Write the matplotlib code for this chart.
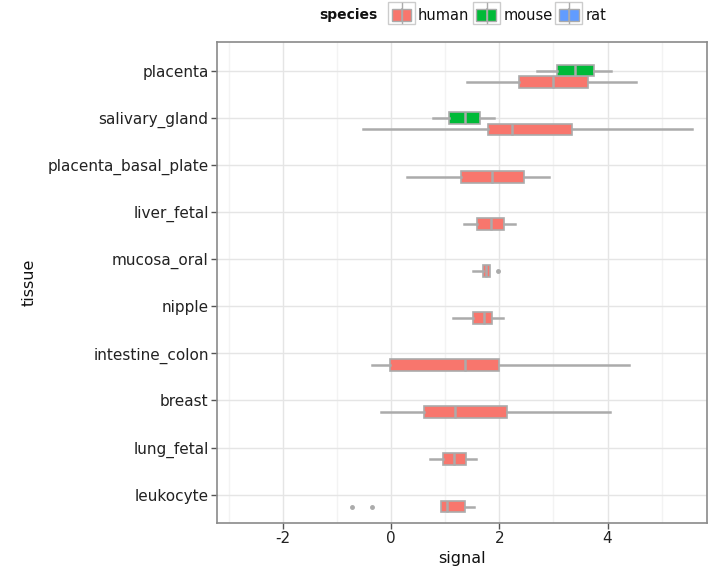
import matplotlib
matplotlib.use("Agg")
import matplotlib.pyplot as plt
from matplotlib.patches import Rectangle
from matplotlib.lines import Line2D

plt.rcParams["axes.unicode_minus"] = False

# ---- data ----
tissues = ["leukocyte", "lung_fetal", "breast", "intestine_colon", "nipple",
           "mucosa_oral", "liver_fetal", "placenta_basal_plate", "salivary_gland", "placenta"]
species = ["human", "mouse", "rat"]
species_colors = ["#F8766D", "#00BA38", "#619CFF"]

# human stats: whislo, q1, med, q3, whishi
human_whislo = [0.92, 0.72, -0.18, -0.35, 1.15, 1.52, 1.35, 0.29, -0.52, 1.41]
human_q1     = [0.92, 0.95, 0.60, -0.03, 1.52, 1.69, 1.58, 1.29, 1.79, 2.37]
human_med    = [1.03, 1.17, 1.18, 1.37, 1.71, 1.76, 1.84, 1.86, 2.24, 2.99]
human_q3     = [1.37, 1.39, 2.14, 2.00, 1.86, 1.83, 2.08, 2.46, 3.35, 3.64]
human_whishi = [1.53, 1.57, 4.04, 4.39, 2.06, 1.83, 2.29, 2.92, 5.57, 4.53]
human_fliers = [[-0.73, -0.36], [], [], [], [], [1.98], [], [], [], []]

# mouse stats (only two tissues)
mouse_tissues = ["salivary_gland", "placenta"]
mouse_whislo = [0.77, 2.69]
mouse_q1     = [1.07, 3.06]
mouse_med    = [1.36, 3.39]
mouse_q3     = [1.65, 3.75]
mouse_whishi = [1.91, 4.07]

x_ticks = [-2, 0, 2, 4]

# ---- figure ----
W, H = 709, 568
fig = plt.figure(figsize=(W / 100, H / 100), dpi=100)
ax = fig.add_axes([217 / W, 1 - 523 / H, (706.5 - 217) / W, (523 - 42.3) / H])

grid_major = "#E5E5E5"
grid_minor = "#F3F3F3"
line_gray = "#ABABAB"

ax.set_xlim(-3.22, 5.83)
ax.set_ylim(0.4, 10.6)
ax.set_xticks(x_ticks)
ax.set_xticks([-3, -1, 1, 3, 5], minor=True)
ax.set_yticks(range(1, len(tissues) + 1))
ax.set_yticklabels(tissues)
ax.grid(True, which="major", color=grid_major, lw=1.0, zorder=0)
ax.grid(True, which="minor", axis="x", color=grid_minor, lw=1.0, zorder=0)
ax.set_axisbelow(True)
for s in ax.spines.values():
    s.set_color("#8A8A8A")
    s.set_linewidth(1.2)
ax.tick_params(axis="both", which="major", length=4, width=1.0, color="#555555",
               labelsize=11, labelcolor="#222222", pad=2)
ax.tick_params(axis="both", which="minor", length=0)

width = 0.25
offsets = {"human": -0.25, "mouse": 0.0, "rat": 0.25}

def draw(stats, positions, color):
    ax.bxp(stats, positions=positions, vert=False, widths=width, patch_artist=True,
           showfliers=True, showcaps=False,
           boxprops=dict(facecolor=color, edgecolor=line_gray, linewidth=1.2),
           medianprops=dict(color=line_gray, linewidth=1.8),
           whiskerprops=dict(color=line_gray, linewidth=1.8),
           flierprops=dict(marker="o", markersize=2.5, markerfacecolor=line_gray,
                           markeredgecolor=line_gray, linestyle="none"),
           manage_ticks=False, zorder=3)

h_stats = []
for i in range(len(tissues)):
    h_stats.append(dict(whislo=human_whislo[i], q1=human_q1[i], med=human_med[i],
                        q3=human_q3[i], whishi=human_whishi[i], fliers=human_fliers[i]))
draw(h_stats, [i + 1 + offsets["human"] for i in range(len(tissues))], species_colors[0])

m_stats, m_pos = [], []
for j, t in enumerate(mouse_tissues):
    m_stats.append(dict(whislo=mouse_whislo[j], q1=mouse_q1[j], med=mouse_med[j],
                        q3=mouse_q3[j], whishi=mouse_whishi[j], fliers=[]))
    m_pos.append(tissues.index(t) + 1 + offsets["mouse"])
draw(m_stats, m_pos, species_colors[1])

ax.set_xlabel("signal", fontsize=11.5, color="#111111", labelpad=3)
ax.set_ylabel("tissue", fontsize=11.5, color="#111111", labelpad=8)

# ---- legend (top, manual) ----
def fx(px):
    return px / W

def fy(py):
    return 1 - py / H

fig.text(fx(319), fy(15), "species", fontsize=10, fontweight="bold", color="#111111",
         ha="left", va="center")
key_left = [388, 473, 555]
text_left = [418, 504, 586]
for k, sp in enumerate(species):
    x0 = key_left[k]
    fig.add_artist(Rectangle((fx(x0), fy(23.5)), 27 / W, 21.5 / H, transform=fig.transFigure,
                             facecolor="white", edgecolor="#CCCCCC", lw=1.0))
    cx = x0 + 13.5
    fig.add_artist(Line2D([fx(cx), fx(cx)], [fy(22.5), fy(3)], transform=fig.transFigure,
                          color=line_gray, lw=1.0))
    fig.add_artist(Rectangle((fx(x0 + 3.5), fy(20.5)), 20 / W, 12 / H, transform=fig.transFigure,
                             facecolor=species_colors[k], edgecolor=line_gray, lw=1.0))
    fig.add_artist(Line2D([fx(cx), fx(cx)], [fy(20.5), fy(8.5)], transform=fig.transFigure,
                          color=line_gray, lw=1.2))
    fig.text(fx(text_left[k]), fy(15), sp, fontsize=10.5, color="#111111",
             ha="left", va="center")

fig.savefig("out.png", dpi=100)
